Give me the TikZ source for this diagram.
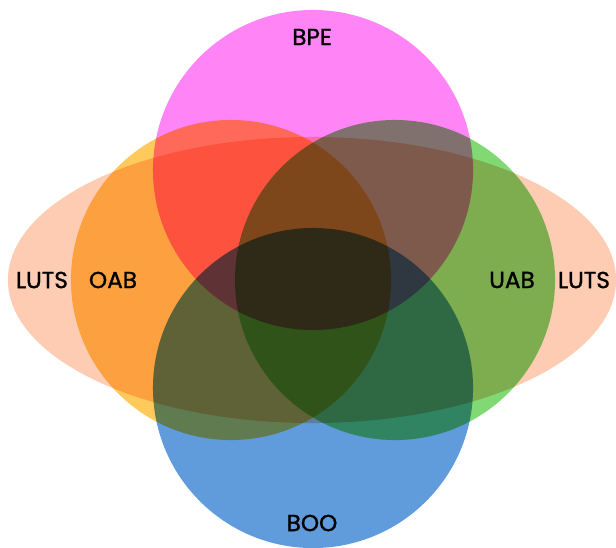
\documentclass[tikz,border=0pt]{standalone}
\usepackage{fontspec}
\setmainfont{Poppins}
\newfontfamily\setfont[FakeBold=1.2]{Poppins}
\usetikzlibrary{shapes.geometric}
\definecolor{lutscol}{RGB}{253,204,178}
\definecolor{bpecol}{RGB}{255,133,247}
\definecolor{oabcol}{RGB}{255,202,92}
\definecolor{uabcol}{RGB}{128,217,114}
\definecolor{boocol}{RGB}{96,156,220}
\tikzset{%
  set/.style     = {circle, inner sep=0pt, minimum size=8cm}, % one circle
  setname/.style = {inner sep=0pt, font=\setfont\fontsize{16.5}{18}\selectfont}
}

\begin{document}
\begin{tikzpicture}[x=0.025cm, y=-0.025cm]
  \useasboundingbox (0,0) rectangle (616,547);

  \begin{scope}[blend group=multiply]
    \node at (312,280) [ellipse, inner sep=0pt, minimum width=15.2cm,
      minimum height=7.15cm, fill=lutscol] (luts) {};
    \node at (313,170) [set, fill=bpecol] (bpe) {};
    \node at (231,280) [set, fill=oabcol] (oab) {};
    \node at (395,280) [set, fill=uabcol] (uab) {};
    \node at (313,388) [set, fill=boocol] (boo) {};
  \end{scope}

  \node at (312,37) [setname] (bpetext) {BPE};
  \node at (312,523) [setname] (bootext) {BOO};
  \node at (113,280) [setname] (oabtext) {OAB};
  \node at (512,280) [setname] (uabtext) {UAB};
  \node at (42,280) [setname] (lutsleft) {LUTS};
  \node at (584,280) [setname] (lutsright) {LUTS};

\end{tikzpicture}
\end{document}
